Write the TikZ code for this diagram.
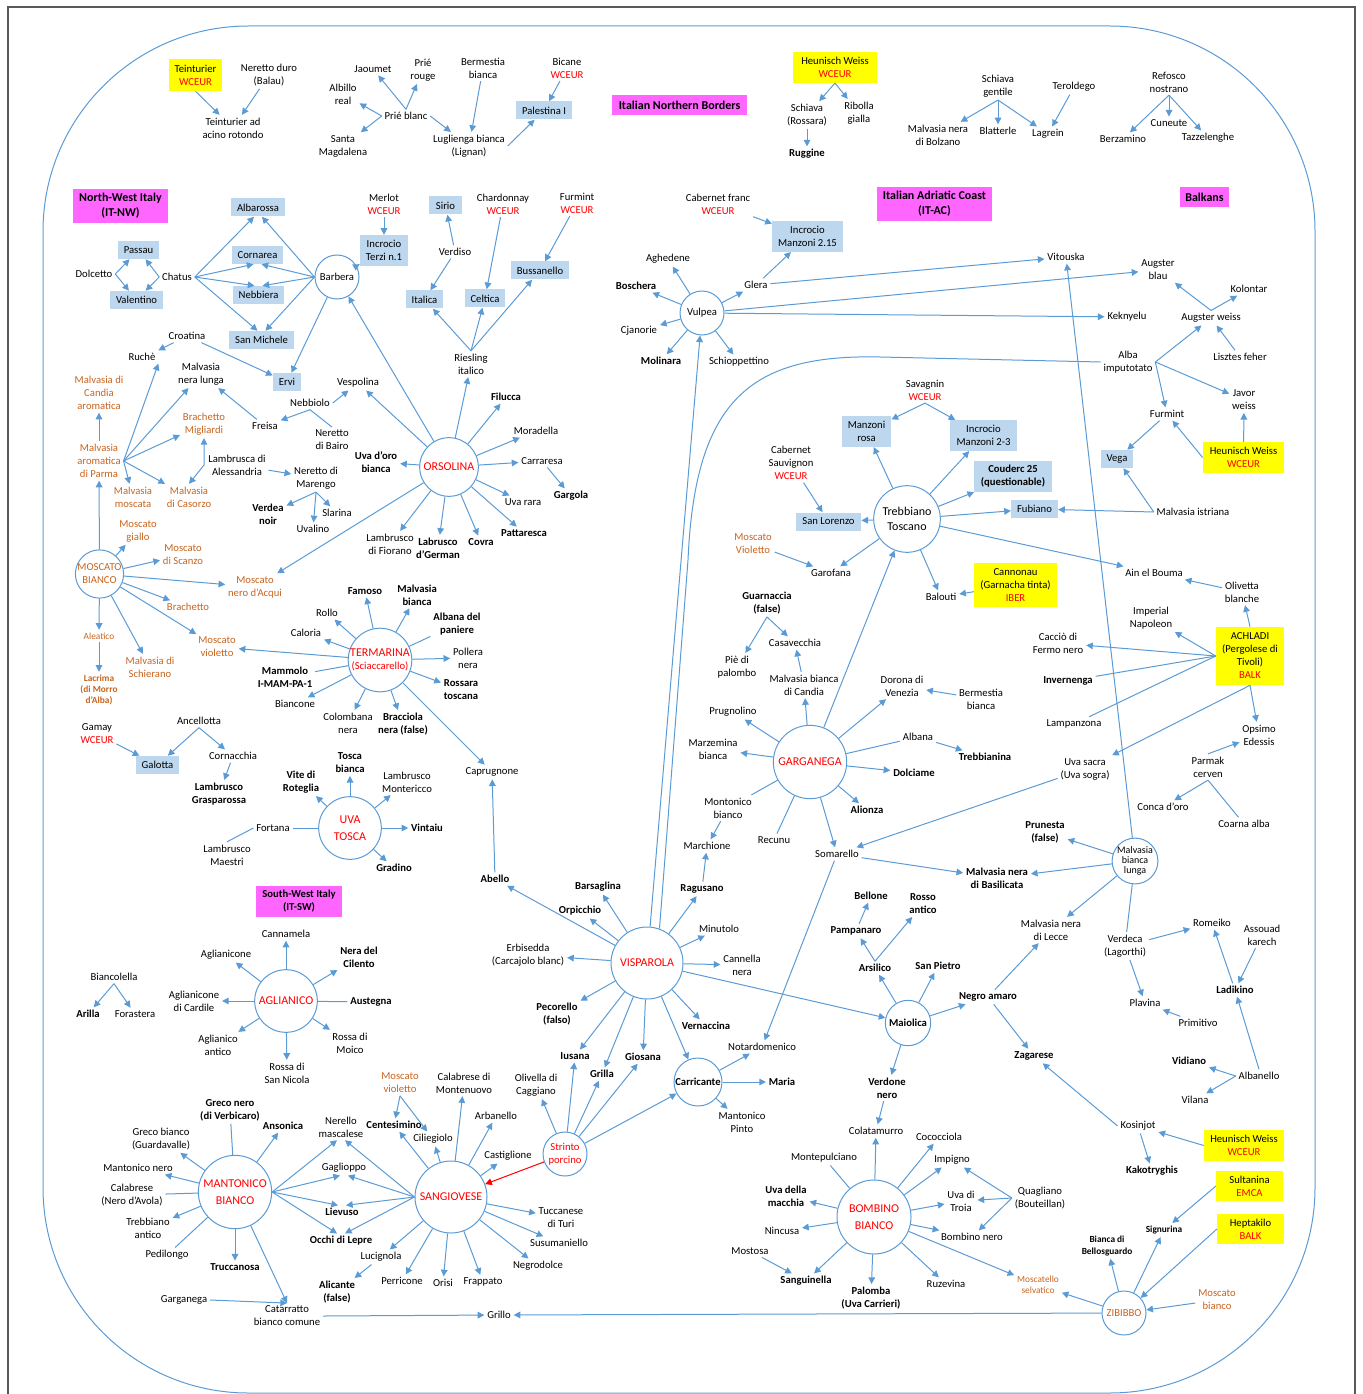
\documentclass[tikz,border=0pt]{standalone}
\usepackage{fontspec}
\setmainfont{Carlito}
\usetikzlibrary{arrows.meta}
\definecolor{lblue}{HTML}{5B9BD5}
\definecolor{bxblue}{HTML}{BDD7EE}
\definecolor{yel}{HTML}{FFFF00}
\definecolor{mag}{HTML}{FF66FF}
\definecolor{orng}{HTML}{C8641E}
\definecolor{frm}{HTML}{595959}
\newcommand{\fnn}{\fontsize{8}{9.75}\selectfont}
\newcommand{\fnl}{\fontsize{9}{11}\selectfont}
\newcommand{\fns}{\fontsize{7}{8.5}\selectfont}
\newcommand{\redt}[1]{\textcolor{red}{#1}}
\begin{document}
\begin{tikzpicture}[x=0.75pt,y=-0.75pt,
 every node/.style={font=\fnn,align=center,inner sep=2pt,text=black},
 bld/.style={font=\fnn\bfseries},
 org/.style={text=orng},
 sml/.style={font=\fns},
 smb/.style={font=\fns\bfseries},
 ybox/.style={fill=yel,inner sep=2pt},
 bbox/.style={fill=bxblue,inner sep=2pt,minimum height=13.5pt},
 mbox/.style={fill=mag,font=\fnl\bfseries,inner sep=2pt},
 circ/.style={circle,draw=lblue,line width=0.75pt,fill=white,inner sep=0pt},
 arw/.style={color=lblue,line width=0.75pt,-{Triangle[length=5pt,width=5pt]}},
 arwb/.style={color=lblue,line width=0.75pt,{Triangle[length=5pt,width=5pt]}-{Triangle[length=5pt,width=5pt]}},
 lin/.style={color=lblue,line width=0.75pt}]
\useasboundingbox (0,0) rectangle (1362,1394);
\draw[frm,line width=1.5pt] (8,1394) -- (8,7) -- (1355,7) -- (1355,1394);
\draw[lblue,line width=0.75pt,rounded corners=154pt] (43,26) rectangle (1315,1393);

% ---------- top ----------
\node[ybox,minimum width=40pt,minimum height=24pt] (teint) at (195.5,75) {Teinturier\\\redt{WCEUR}};
\node (nduro) at (269,75) {Neretto duro\\(Balau)};
\node (tad) at (233,128) {Teinturier ad\\acino rotondo};
\node (prieb) at (406,116) {Prié blanc};
\node (jaoumet) at (373,69) {Jaoumet};
\node (prier) at (423,70) {Prié\\rouge};
\node (albillo) at (343,94) {Albillo\\real};
\node (santam) at (343,146) {Santa\\Magdalena};
\node (lugl) at (469,146) {Luglienga bianca\\(Lignan)};
\node (bermb) at (483,68) {Bermestia\\bianca};
\node (bicane) at (567,68) {Bicane\\\redt{WCEUR}};
\node[bbox,minimum width=42pt] (palest) at (544,110.5) {Palestina I};
\node[mbox,minimum width=101pt,minimum height=15pt] (inb) at (679.5,105) {Italian Northern Borders};
\node[ybox,minimum width=63pt,minimum height=23pt] (hwa) at (835,67.5) {Heunisch Weiss\\\redt{WCEUR}};
\node (schiavar) at (807,115) {Schiava\\(Rossara)};
\node (ribolla) at (859,113) {Ribolla\\gialla};
\node[bld] (ruggine) at (807,154) {Ruggine};
\node (schiavag) at (998,86) {Schiava\\gentile};
\node (teroldego) at (1074,87) {Teroldego};
\node (mnbolz) at (938,135) {Malvasia nera\\di Bolzano};
\node (blatterle) at (998,131) {Blatterle};
\node (lagrein) at (1048,134) {Lagrein};
\node (refosco) at (1169,82) {Refosco\\nostrano};
\node (cuneute) at (1169,123) {Cuneute};
\node (berzamino) at (1123,139) {Berzamino};
\node (tazz) at (1208,138) {Tazzelenghe};
\node[mbox,minimum width=37pt,minimum height=15pt] (balkans) at (1204.5,197) {Balkans};
\node[mbox,minimum width=86pt,minimum height=25.5pt] (iac) at (934.5,204) {Italian Adriatic Coast\\(IT-AC)};

% ---------- north-west ----------
\node[mbox,minimum width=71pt,minimum height=25.5pt] (nwi) at (120.5,206) {North-West Italy\\(IT-NW)};
\node[bbox,minimum width=31pt] (passau) at (138.5,250) {Passau};
\node[bbox,minimum width=40pt] (valentino) at (136.5,300) {Valentino};
\node (dolcetto) at (94,274) {Dolcetto};
\node (chatus) at (177,277) {Chatus};
\node[bbox,minimum width=40.5pt] (albarossa) at (258,207.5) {Albarossa};
\node[bbox,minimum width=38pt] (cornarea) at (257.5,255) {Cornarea};
\node[bbox,minimum width=38pt] (nebbiera) at (258.5,295) {Nebbiera};
\node[bbox,minimum width=49pt] (sanmichele) at (261.5,340) {San Michele};
\node[circ,minimum size=33pt] (barbera) at (337,277) {Barbera};
\node (merlot) at (384,204) {Merlot\\\redt{WCEUR}};
\node[bbox,minimum width=36pt,minimum height=23pt] (terzi) at (384,250.5) {Incrocio\\Terzi n.1};
\node[bbox,minimum width=25pt] (sirio) at (445.5,205.5) {Sirio};
\node (verdiso) at (455,252) {Verdiso};
\node[bbox,minimum width=28pt] (italica) at (424.5,299.5) {Italica};
\node[bbox,minimum width=30pt] (celtica) at (485,298.5) {Celtica};
\node[bbox,minimum width=43.5pt] (bussanello) at (540,270.5) {Bussanello};
\node (chardonnay) at (503,204) {Chardonnay\\\redt{WCEUR}};
\node (furmintw) at (577,203) {Furmint\\\redt{WCEUR}};
\node (riesling) at (471,364) {Riesling\\italico};
\node (croatina) at (187,336) {Croatina};
\node (ruche) at (142,357) {Ruchè};
\node[bbox,minimum width=21pt] (ervi) at (287,382) {Ervi};
\node[org] (mdca) at (99,393) {Malvasia di\\Candia\\aromatica};
\node[org] (madp) at (99,461) {Malvasia\\aromatica\\di Parma};
\node (mnl) at (201,374) {Malvasia\\nera lunga};
\node[org] (bmig) at (204,424) {Brachetto\\Migliardi};
\node[org] (mmoscata) at (133,497) {Malvasia\\moscata};
\node[org] (mcasorzo) at (189,497) {Malvasia\\di Casorzo};
\node (freisa) at (265,426) {Freisa};
\node (nebbiolo) at (310,403) {Nebbiolo};
\node (nbairo) at (332,440) {Neretto\\di Bairo};
\node (vespolina) at (358,383) {Vespolina};
\node (lambrusca) at (237,465) {Lambrusca di\\Alessandria};
\node (nmarengo) at (316,478) {Neretto di\\Marengo};
\node[bld] (verdea) at (268,514) {Verdea\\noir};
\node (uvalino) at (313,529) {Uvalino};
\node (slarina) at (337,513) {Slarina};
\node[bld] (uvadoro) at (376,462) {Uva d’oro\\bianca};
\node[circ,minimum size=44pt,font=\fnl,text=red] (orsolina) at (449,467) {ORSOLINA};
\node (lfiorano) at (390,544) {Lambrusco\\di Fiorano};
\node[bld] (lgerman) at (438,548) {Labrusco\\d’German};
\node[bld] (covra) at (481,542) {Covra};
\node[bld] (pattaresca) at (524,533) {Pattaresca};
\node (uvarara) at (523,502) {Uva rara};
\node[bld] (gargola) at (571,496) {Gargola};
\node (carraresa) at (542,461) {Carraresa};
\node (moradella) at (536,431) {Moradella};
\node[bld] (filucca) at (506,397) {Filucca};

\node[circ,minimum size=36pt,org] (mbianco) at (99.5,574) {MOSCATO\\BIANCO};
\node[org] (mgiallo) at (138,531) {Moscato\\giallo};
\node[org] (mscanzo) at (183,555) {Moscato\\di Scanzo};
\node[org] (mnacqui) at (255,587) {Moscato\\nero d'Acqui};
\node[org] (brachetto) at (188,607) {Brachetto};
\node[org] (mviol1) at (217,647) {Moscato\\violetto};
\node[org] (mschierano) at (150,667) {Malvasia di\\Schierano};
\node[org,sml] (aleatico) at (99,636) {Aleatico};
\node[org,smb] (lacrima) at (99,690) {Lacrima\\(di Morro\\d’Alba)};

\node[circ,minimum size=47pt,font=\fnl,text=red] (termarina) at (380,660) {TERMARINA\\[-1pt]\fnn(Sciaccarello)};
\node[bld] (famoso) at (365,591) {Famoso};
\node[bld] (mbianca) at (417,595) {Malvasia\\bianca};
\node (rollo) at (327,613) {Rollo};
\node (caloria) at (306,633) {Caloria};
\node[bld] (albanap) at (457,624) {Albana del\\paniere};
\node (pollera) at (468,658) {Pollera\\nera};
\node[bld] (rossarat) at (461,690) {Rossara\\toscana};
\node[bld] (mammolo) at (285,677) {Mammolo\\I-MAM-PA-1};
\node (biancone) at (295,704) {Biancone};
\node (colombana) at (348,723) {Colombana\\nera};
\node[bld] (bracciola) at (403,724) {Bracciola\\nera (false)};
\node (caprugnone) at (492,772) {Caprugnone};
\node[bld] (abello) at (495,879) {Abello};

\node (gamay) at (97,734) {Gamay\\\redt{WCEUR}};
\node[bbox,minimum width=32pt] (galotta) at (157.5,765) {Galotta};
\node (ancellotta) at (199,721) {Ancellotta};
\node (cornacchia) at (233,756) {Cornacchia};
\node[bld] (lgrasp) at (219,794) {Lambrusco\\Grasparossa};

\node[circ,minimum size=47pt,font=\fnl,text=red] (uvatosca) at (350,828) {UVA\\[2pt]TOSCA};
\node[bld] (toscab) at (350,763) {Tosca\\bianca};
\node[bld] (viter) at (301,782) {Vite di\\Roteglia};
\node (lmontericco) at (407,782) {Lambrusco\\Montericco};
\node[bld] (vintaiu) at (427,828) {Vintaiu};
\node[bld] (gradino) at (394,868) {Gradino};
\node (fortana) at (273,828) {Fortana};
\node (lmaestri) at (227,855) {Lambrusco\\Maestri};

% ---------- south-west ----------
\node[mbox,font=\fnn\bfseries,minimum width=64.5pt,minimum height=23pt] (swi) at (299,901.5) {South-West Italy\\(IT-SW)};
\node[circ,minimum size=47pt,font=\fnl,text=red] (aglianico) at (286,1001) {AGLIANICO};
\node (cannamela) at (286,934) {Cannamela};
\node (aglianicone) at (226,955) {Aglianicone};
\node[bld] (neradc) at (359,957) {Nera del\\Cilento};
\node (aglcardile) at (194,1001) {Aglianicone\\di Cardile};
\node[bld] (austegna) at (371,1002) {Austegna};
\node (aglantico) at (218,1045) {Aglianico\\antico};
\node (rossamoico) at (350,1043) {Rossa di\\Moico};
\node (rossasn) at (287,1073) {Rossa di\\San Nicola};
\node (biancolella) at (114,977) {Biancolella};
\node[bld] (arilla) at (88,1014) {Arilla};
\node (forastera) at (135,1014) {Forastera};

\node[circ,minimum size=55pt,font=\fnl,text=red] (mantonico) at (235,1192) {MANTONICO\\[2pt]BIANCO};
\node[bld] (greconero) at (230,1110) {Greco nero\\(di Verbicaro)};
\node[bld] (ansonica) at (283,1126) {Ansonica};
\node (grecob) at (161,1139) {Greco bianco\\(Guardavalle)};
\node (mantnero) at (138,1168) {Mantonico nero};
\node (calabrese) at (132,1195) {Calabrese\\(Nero d’Avola)};
\node (trebantico) at (148,1228) {Trebbiano\\antico};
\node (pedilongo) at (167,1255) {Pedilongo};
\node[bld] (truccanosa) at (235,1267) {Truccanosa};
\node (garganega2) at (184,1300) {Garganega};
\node (catarratto) at (287,1316) {Catarratto\\bianco comune};
\node (nerello) at (341,1127) {Nerello\\mascalese};
\node (gaglioppo) at (344,1168) {Gaglioppo};
\node[bld] (lievuso) at (342,1212) {Lievuso};
\node[bld] (occhi) at (341,1241) {Occhi di Lepre};

\node[circ,minimum size=54pt,font=\fnl,text=red] (sangiovese) at (451,1197) {SANGIOVESE};
\node[bld] (centesimino) at (394,1125) {Centesimino};
\node (ciliegiolo) at (433,1139) {Ciliegiolo};
\node[org] (mviol2) at (400,1083) {Moscato\\violetto};
\node (calabm) at (464,1083) {Calabrese di\\Montenuovo};
\node (arbanello) at (496,1116) {Arbanello};
\node (castiglione) at (508,1156) {Castiglione};
\node (tuccanese) at (561,1218) {Tuccanese\\di Turi};
\node (susumaniello) at (559,1243) {Susumaniello};
\node (negrodolce) at (538,1266) {Negrodolce};
\node (frappato) at (483,1282) {Frappato};
\node (orisi) at (443,1283) {Orisi};
\node (perricone) at (402,1281) {Perricone};
\node (lucignola) at (381,1257) {Lucignola};
\node[bld] (alicante) at (337,1292) {Alicante\\(false)};
\node (grillo) at (499,1315) {Grillo};

\node[circ,minimum size=33pt,text=red] (strinto) at (565,1154) {Strinto\\porcino};
\node (olivella) at (536,1085) {Olivella di\\Caggiano};
\node[bld] (iusana) at (575,1056) {Iusana};
\node[bld] (grilla) at (602,1074) {Grilla};
\node[bld] (giosana) at (643,1057) {Giosana};
\node[circ,minimum size=36pt,font=\fnn\bfseries] (carricante) at (698,1082) {Carricante};
\node (notardomenico) at (762,1047) {Notardomenico};
\node[bld] (maria) at (782,1082) {Maria};
\node (mpinto) at (742,1122) {Mantonico\\Pinto};

% ---------- centre ----------
\node[circ,minimum size=54pt,font=\fnl,text=red] (visparola) at (647,963) {VISPAROLA};
\node[bld] (orpicchio) at (580,911) {Orpicchio};
\node[bld] (barsaglina) at (598,887) {Barsaglina};
\node[bld] (ragusano) at (702,889) {Ragusano};
\node (marchione) at (707,846) {Marchione};
\node (montonico) at (728,808) {Montonico\\bianco};
\node (minutolo) at (719,929) {Minutolo};
\node (cannella) at (742,965) {Cannella\\nera};
\node[bld] (vernaccina) at (706,1026) {Vernaccina};
\node[bld] (pecorello) at (557,1014) {Pecorello\\(falso)};
\node (erbisedda) at (528,955) {Erbisedda\\(Carcajolo blanc)};

\node[circ,minimum size=55pt,font=\fnl,text=red] (garganega) at (810,762) {GARGANEGA};
\node (prugnolino) at (733,712) {Prugnolino};
\node (marzemina) at (713,749) {Marzemina\\bianca};
\node (mbcandia) at (804,685) {Malvasia bianca\\di Candia};
\node (casavecchia) at (795,643) {Casavecchia};
\node[bld] (guarnaccia) at (767,603) {Guarnaccia\\(false)};
\node (piedip) at (737,667) {Piè di\\palombo};
\node (dorona) at (902,686) {Dorona di\\Venezia};
\node (bermb2) at (981,699) {Bermestia\\bianca};
\node (albana) at (918,737) {Albana};
\node[bld] (trebbianina) at (985,757) {Trebbianina};
\node[bld] (dolciame) at (914,773) {Dolciame};
\node[bld] (alionza) at (867,810) {Alionza};
\node (somarello) at (837,854) {Somarello};
\node (recunu) at (774,840) {Recunu};

\node[circ,minimum size=50pt,font=\fnl] (trebbiano) at (907,519) {Trebbiano\\Toscano};
\node (savagnin) at (925,390) {Savagnin\\\redt{WCEUR}};
\node[bbox,minimum width=37pt,minimum height=23pt] (manzrosa) at (866.5,431.5) {Manzoni\\rosa};
\node[bbox,minimum width=50pt,minimum height=23pt] (imtwo) at (983.5,435.5) {Incrocio\\Manzoni 2-3};
\node[bbox,minimum width=58.5pt,minimum height=23pt,font=\fnn\bfseries] (couderc) at (1013,476.5) {Couderc 25\\(questionable)};
\node[bbox,minimum width=35pt] (fubiano) at (1034.5,509) {Fubiano};
\node[bbox,minimum width=49pt] (sanlorenzo) at (828.5,521.5) {San Lorenzo};
\node (cabsauv) at (791,463) {Cabernet\\Sauvignon\\\redt{WCEUR}};
\node[org] (mviol3) at (753,544) {Moscato\\Violetto};
\node (garofana) at (831,573) {Garofana};
\node (balouti) at (941,597) {Balouti};
\node[ybox,minimum width=62pt,minimum height=33pt] (cannonau) at (1015.5,585) {Cannonau\\(Garnacha tinta)\\\redt{IBER}};
\node (ainelbouma) at (1154,573) {Ain el Bouma};
\node (olivetta) at (1242,592) {Olivetta\\blanche};
\node (malvistr) at (1193,512) {Malvasia istriana};
\node[bbox,minimum width=24pt] (vega) at (1117,459) {Vega};
\node (furmint) at (1167,414) {Furmint};
\node[ybox,minimum width=61pt,minimum height=23pt] (hwb) at (1243.5,457.5) {Heunisch Weiss\\\redt{WCEUR}};
\node (javor) at (1244,400) {Javor\\weiss};
\node (albaimp) at (1128,362) {Alba\\imputotato};
\node (lisztes) at (1240,357) {Lisztes feher};
\node (augsterw) at (1211,318) {Augster weiss};
\node (augsterb) at (1158,270) {Augster\\blau};
\node (kolontar) at (1249,289) {Kolontar};
\node (keknyelu) at (1127,317) {Keknyelu};
\node (vitouska) at (1066,257) {Vitouska};

\node[circ,minimum size=33pt] (vulpea) at (702,313) {Vulpea};
\node (glera) at (756,285) {Glera};
\node[bbox,minimum width=53pt,minimum height=23pt] (imone) at (807.5,236.5) {Incrocio\\Manzoni 2.15};
\node (cabfranc) at (718,204) {Cabernet franc\\\redt{WCEUR}};
\node (aghedene) at (668,259) {Aghedene};
\node[bld] (boschera) at (636,286) {Boschera};
\node (cjanorie) at (639,331) {Cjanorie};
\node[bld] (molinara) at (661,361) {Molinara};
\node (schioppettino) at (739,362) {Schioppettino};

% ---------- balkans ----------
\node[ybox,minimum width=51pt,minimum height=43.5pt] (achladi) at (1250,656) {ACHLADI\\(Pergolese di\\Tivoli)\\\redt{BALK}};
\node (imperial) at (1151,618) {Imperial\\Napoleon};
\node (caccio) at (1058,643) {Cacciò di\\Fermo nero};
\node[bld] (invernenga) at (1068,681) {Invernenga};
\node (lampanzona) at (1074,724) {Lampanzona};
\node (uvasacra) at (1085,769) {Uva sacra\\(Uva sogra)};
\node (opsimo) at (1259,735) {Opsimo\\Edessis};
\node (parmak) at (1208,767) {Parmak\\cerven};
\node (concadoro) at (1163,807) {Conca d’oro};
\node (coarna) at (1244,824) {Coarna alba};

\node[circ,minimum size=33pt,font=\fontsize{7.5}{7.5}\selectfont] (mbl) at (1135,861) {Malvasia\\bianca\\lunga};
\node[bld] (prunesta) at (1045,832) {Prunesta\\(false)};
\node[bld] (mnbasil) at (997,878) {Malvasia nera\\di Basilicata};
\node (mnlecce) at (1051,930) {Malvasia nera\\di Lecce};
\node (verdeca) at (1125,946) {Verdeca\\(Lagorthi)};
\node (romeiko) at (1212,923) {Romeiko};
\node (assouad) at (1262,935) {Assouad\\karech};
\node[bld] (ladikino) at (1235,990) {Ladikino};
\node (plavina) at (1145,1003) {Plavina};
\node (primitivo) at (1198,1023) {Primitivo};
\node[bld] (vidiano) at (1189,1061) {Vidiano};
\node (albanello) at (1259,1076) {Albanello};
\node (vilana) at (1195,1100) {Vilana};

\node[circ,minimum size=34pt,font=\fnn\bfseries] (maiolica) at (908,1023) {Maiolica};
\node[bld] (arsilico) at (875,968) {Arsilico};
\node[bld] (pampanaro) at (856,931) {Pampanaro};
\node[bld] (bellone) at (871,896) {Bellone};
\node[bld] (rossoantico) at (923,904) {Rosso\\antico};
\node[bld] (sanpietro) at (938,966) {San Pietro};
\node[bld] (negroamaro) at (988,997) {Negro amaro};
\node[bld] (zagarese) at (1034,1056) {Zagarese};
\node (kosinjot) at (1138,1126) {Kosinjot};
\node[bld] (kakotryghis) at (1152,1171) {Kakotryghis};
\node[ybox,minimum width=60pt,minimum height=23pt] (hwc) at (1244,1145.5) {Heunisch Weiss\\\redt{WCEUR}};
\node[bld] (verdone) at (887,1088) {Verdone\\nero};
\node (colatamurro) at (876,1131) {Colatamurro};

\node[circ,minimum size=55.5pt,font=\fnl,text=red] (bombino) at (874,1217) {BOMBINO\\[2pt]BIANCO};
\node (cococciola) at (939,1137) {Cococciola};
\node (impigno) at (952,1160) {Impigno};
\node (uvatroia) at (961,1201) {Uva di\\Troia};
\node (bombinonero) at (972,1237) {Bombino nero};
\node (quagliano) at (1040,1198) {Quagliano\\(Bouteillan)};
\node (ruzevina) at (946,1284) {Ruzevina};
\node[org,sml] (moscatello) at (1038,1285) {Moscatello\\selvatico};
\node[bld] (palomba) at (871,1298) {Palomba\\(Uva Carrieri)};
\node[bld] (sanguinella) at (806,1281) {Sanguinella};
\node (mostosa) at (750,1251) {Mostosa};
\node (nincusa) at (782,1231) {Nincusa};
\node[bld] (uvamacchia) at (786,1196) {Uva della\\macchia};
\node (montepulciano) at (824,1158) {Montepulciano};

\node[circ,minimum size=33pt,org] (zibibbo) at (1124,1313) {ZIBIBBO};
\node[smb] (bellosguardo) at (1107,1246) {Bianca di\\Bellosguardo};
\node[smb] (signurina) at (1164,1230) {Signurina};
\node[ybox,minimum width=50pt,minimum height=22.5pt] (sultanina) at (1249.5,1186) {Sultanina\\\redt{EMCA}};
\node[ybox,minimum width=50pt,minimum height=22.5pt] (heptakilo) at (1250.5,1229) {Heptakilo\\\redt{BALK}};
\node[org] (mbianco2) at (1217,1300) {Moscato\\bianco};

% ================= connectors =================
\draw[arw] (teint.south) -- (tad);
\draw[arw] (nduro) -- (tad);
\draw[arw] (prieb.north) -- (jaoumet);
\draw[arw] (prieb.north) -- (prier);
\draw[arw] (prieb.west) -- (albillo);
\draw[arw] (prieb.west) -- (santam);
\draw[arw] (prieb.east) -- (lugl);
\draw[arw] (bermb) -- (lugl);
\draw[arw] (bicane) -- (palest);
\draw[arw] (lugl.east) -- (palest);
\draw[arw] (hwa.south) -- (schiavar);
\draw[arw] (hwa.south) -- (ribolla);
\draw[arw] (schiavar) -- (ruggine);
\draw[arw] (schiavag.south) -- (mnbolz);
\draw[arw] (schiavag.south) -- (blatterle);
\draw[arw] (schiavag.south) -- (lagrein);
\draw[arw] (teroldego) -- (lagrein);
\draw[arw] (refosco.south) -- (berzamino);
\draw[arw] (refosco.south) -- (cuneute);
\draw[arw] (refosco.south) -- (tazz);

\draw[arw] (dolcetto.east) -- (passau);
\draw[arw] (dolcetto.east) -- (valentino);
\draw[arw] (chatus.west) -- (passau);
\draw[arw] (chatus.west) -- (valentino);
\draw[arw] (chatus.east) -- ([xshift=-3pt]albarossa.south);
\draw[arw] (chatus.east) -- ([xshift=-3pt]cornarea.south);
\draw[arw] (chatus.east) -- ([xshift=-3pt]nebbiera.north);
\draw[arw] (chatus.east) -- ([xshift=-3pt]sanmichele.north);
\draw[arw] (barbera.west) -- ([xshift=3pt]albarossa.south);
\draw[arw] (barbera.west) -- ([xshift=3pt]cornarea.south);
\draw[arw] (barbera.west) -- ([xshift=3pt]nebbiera.north);
\draw[arw] (barbera.west) -- ([xshift=3pt]sanmichele.north);
\draw[arw] (barbera) -- (terzi);
\draw[arw] (merlot) -- (terzi);
\draw[arw] (verdiso) -- (sirio);
\draw[arw] (verdiso) -- (italica);
\draw[arw] (riesling.north) -- (italica);
\draw[arw] (riesling.north) -- (celtica);
\draw[arw] (riesling.north) -- (bussanello);
\draw[arw] (chardonnay) -- (celtica);
\draw[arw] (furmintw) -- (bussanello);
\draw[arw] (orsolina) -- (barbera);
\draw[arw] (barbera) -- (ervi);
\draw[arw] (croatina) -- (ervi);
\draw[arw] (croatina) -- (ruche.north east);
\draw[arw] (madp.east) -- (ruche.south east);
\draw[arw] (madp) -- (mdca);
\draw[arw] (madp.east) -- (mnl);
\draw[arw] (madp.east) -- (bmig);
\draw[arw] (madp.east) -- (mmoscata);
\draw[arw] (madp.east) -- (mcasorzo);
\draw[arwb] (bmig.south) -- ++(0,27) -- (mcasorzo.north);
\draw[arw] (freisa) -- (mnl);
\draw[arw] (nebbiolo.south) -- (freisa);
\draw[lin] (nebbiolo.south) -- (nbairo.north);
\draw[arw] (nebbiolo.east) -- (vespolina);
\draw[arw] (orsolina) -- (vespolina);
\draw[arw] (lambrusca) -- (nmarengo);
\draw[arw] (nmarengo.south) -- (verdea);
\draw[arw] (nmarengo.south) -- (uvalino);
\draw[arw] (nmarengo.south) -- (slarina);
\draw[arw] (orsolina) -- (uvadoro);
\foreach \tg in {riesling,filucca,moradella,carraresa,uvarara,pattaresca,covra,lgerman,lfiorano,mnacqui}
  \draw[arw] (orsolina) -- (\tg);
\draw[arw] (carraresa) -- (gargola);

\draw[arw] (mbianco) -- (madp);
\foreach \tg in {mgiallo,mscanzo,mnacqui,brachetto,mviol1,mschierano,aleatico}
  \draw[arw] (mbianco) -- (\tg);
\draw[arw] (aleatico) -- (lacrima);

\foreach \tg in {famoso,mbianca,rollo,caloria,mviol1,pollera,rossarat,biancone,colombana,bracciola,caprugnone}
  \draw[arw] (termarina) -- (\tg);
\draw[lin] (termarina) -- (albanap);
\draw[lin] (termarina) -- (mammolo);
\draw[arw] (abello) -- (caprugnone);

\draw[arw] (gamay) -- (galotta);
\draw[arw] (ancellotta.south) -- (galotta);
\draw[arw] (ancellotta.south) -- (cornacchia);
\draw[arw] (cornacchia) -- (lgrasp);

\foreach \tg in {toscab,viter,lmontericco,vintaiu,gradino}
  \draw[arw] (uvatosca) -- (\tg);
\draw[lin] (uvatosca) -- (fortana);
\draw[lin] (lmaestri.north) -- (fortana.west);

\foreach \tg in {cannamela,aglianicone,neradc,aglcardile,aglantico,rossamoico,rossasn}
  \draw[arw] (aglianico) -- (\tg);
\draw[lin] (aglianico) -- (austegna);
\draw[arw] (biancolella.south) -- (arilla);
\draw[arw] (biancolella.south) -- (forastera);

\draw[lin] (mantonico) -- (greconero);
\foreach \tg in {ansonica,grecob,mantnero,trebantico,truccanosa}
  \draw[arw] (mantonico) -- (\tg);
\draw[arw] (mantonico) -- (catarratto.north);
\draw[lin] (mantonico) -- (calabrese);
\draw[lin] (mantonico) -- (pedilongo);
\draw[arw] (garganega2.east) -- (catarratto.north);
\draw[arw] (catarratto.east) -- (grillo);
\draw[arw] (zibibbo) -- (grillo);
\draw[arw] (mantonico.east) -- ([xshift=-3pt]nerello.south);
\draw[arw] (sangiovese.west) -- ([xshift=3pt]nerello.south);
\draw[arw] (mantonico.east) -- ([xshift=-3pt]gaglioppo.south);
\draw[arw] (sangiovese.west) -- ([xshift=3pt]gaglioppo.south);
\draw[arw] (mantonico.east) -- ([xshift=-3pt]lievuso.north);
\draw[arw] (sangiovese.west) -- ([xshift=3pt]lievuso.north);
\draw[arw] (mantonico.east) -- ([xshift=-3pt]occhi.north);
\draw[arw] (sangiovese.west) -- ([xshift=3pt]occhi.north);

\foreach \tg in {centesimino,ciliegiolo,calabm,arbanello,castiglione,tuccanese,susumaniello,negrodolce,frappato,orisi,perricone,lucignola}
  \draw[arw] (sangiovese) -- (\tg);
\draw[arw] (mviol2.south) -- (centesimino);
\draw[arw] (mviol2.south) -- (ciliegiolo);
\draw[arw] (lucignola) -- (alicante);
\draw[arw,color=red] (strinto) -- (sangiovese);

\foreach \tg in {olivella,iusana,grilla,giosana,carricante}
  \draw[arw] (strinto) -- (\tg);
\foreach \tg in {notardomenico,maria,mpinto}
  \draw[arw] (carricante) -- (\tg);

\foreach \tg in {abello,orpicchio,barsaglina,ragusano,minutolo,cannella,maiolica,vernaccina,erbisedda,pecorello,iusana,grilla,giosana,carricante,vulpea}
  \draw[arw] (visparola) -- (\tg);
\draw[arw] (ragusano) -- (marchione);
\draw[arw] (montonico) -- (marchione);
\draw[lin] (garganega) -- (montonico);
\draw[lin] (albaimp.west) -- (880,357) .. controls (750,354) and (695,400) .. (688,560) -- (visparola.70);

\foreach \tg in {prugnolino,marzemina,mbcandia,trebbiano,dorona,dolciame,alionza,somarello}
  \draw[arw] (garganega) -- (\tg);
\draw[lin] (garganega) -- (albana);
\draw[lin] (garganega) -- (recunu);
\draw[arw] (albana) -- (trebbianina);
\draw[arw] (bermb2) -- (dorona);
\draw[arw] (mbcandia) -- (casavecchia);
\draw[arw] (guarnaccia.south) -- (piedip);
\draw[arw] (guarnaccia.south) -- (casavecchia);

\foreach \tg in {manzrosa,imtwo,couderc,fubiano,sanlorenzo,garofana,balouti,ainelbouma}
  \draw[arw] (trebbiano) -- (\tg);
\draw[arw] (savagnin.south) -- (manzrosa);
\draw[arw] (savagnin.south) -- (imtwo);
\draw[arw] (cabsauv) -- (sanlorenzo);
\draw[arw] (mviol3) -- (garofana);
\draw[arw] (cannonau) -- (balouti);
\draw[arw] (olivetta) -- (ainelbouma);
\draw[arw] (malvistr.west) -- (fubiano);
\draw[arw] (malvistr.west) -- (vega);
\draw[arw] (furmint) -- (vega);
\draw[arw] (hwb.west) -- (furmint);
\draw[arw] (hwb) -- (javor);
\draw[arw] (albaimp.east) -- (furmint);
\draw[arw] (albaimp.east) -- (javor);
\draw[arw] (albaimp.east) -- (augsterw);
\draw[arw] (lisztes) -- (augsterw);
\draw[arw] (augsterw.north) -- (augsterb);
\draw[arw] (augsterw.north) -- (kolontar);
\draw[arw] (vulpea) -- (augsterb);
\draw[arw] (vulpea) -- (keknyelu);
\draw[arw] (glera) -- (vitouska);
\draw[arw] (glera) -- (imone);
\draw[arw] (cabfranc) -- (imone);
\draw[arw] (mbl) -- (vitouska);
\foreach \tg in {aghedene,boschera,glera,cjanorie,molinara,schioppettino}
  \draw[arw] (vulpea) -- (\tg);

\draw[arw] (achladi.north) -- (olivetta);
\draw[arw] (achladi.west) -- (imperial);
\draw[arw] (achladi.west) -- (caccio);
\draw[lin] (achladi.west) -- (invernenga);
\draw[lin] (achladi.west) -- (lampanzona);
\draw[arw] (achladi.south) -- (uvasacra);
\draw[arw] (achladi.south) -- (opsimo);
\draw[arw] (uvasacra) -- (somarello);
\draw[arw] (parmak.north) -- (opsimo);
\draw[arw] (parmak.south) -- (concadoro);
\draw[lin] (parmak.south) -- (coarna);

\draw[arw] (mbl) -- (prunesta);
\draw[arw] (mbl) -- (mnbasil);
\draw[arw] (mbl) -- (mnlecce);
\draw[lin] (mbl) -- (verdeca);
\draw[arw] (somarello) -- (mnbasil);
\draw[arw] (somarello) -- (notardomenico);
\draw[arw] (verdeca) -- (romeiko);
\draw[arw] (verdeca) -- (plavina);
\draw[arw] (primitivo) -- (plavina);
\draw[arw] (ladikino) -- (romeiko);
\draw[arw] (assouad) -- (ladikino);
\draw[arw] (albanello.north) -- (ladikino);
\draw[arw] (albanello.west) -- (vidiano);
\draw[arw] (albanello.west) -- (vilana);

\foreach \tg in {arsilico,sanpietro,negroamaro,verdone}
  \draw[arw] (maiolica) -- (\tg);
\draw[arw] (arsilico.north) -- (pampanaro);
\draw[arw] (arsilico.north) -- (rossoantico);
\draw[arw] (pampanaro) -- (bellone);
\draw[arw] (negroamaro) -- (mnlecce);
\draw[arw] (negroamaro) -- (zagarese);
\draw[arw] (kosinjot.west) -- (zagarese);
\draw[arw] (kosinjot) -- (kakotryghis);
\draw[arw] (hwc.west) -- (kosinjot);
\draw[arw] (verdone) -- (colatamurro);

\foreach \tg in {colatamurro,cococciola,impigno,uvatroia,bombinonero,ruzevina,moscatello,palomba,sanguinella,nincusa,uvamacchia}
  \draw[arw] (bombino) -- (\tg);
\draw[lin] (bombino) -- (montepulciano);
\draw[arw] (quagliano.west) -- (impigno);
\draw[arw] (quagliano.west) -- (uvatroia);
\draw[arw] (quagliano.west) -- (bombinonero);
\draw[arw] (mostosa) -- (sanguinella);

\foreach \tg in {moscatello,bellosguardo,signurina}
  \draw[arw] (zibibbo) -- (\tg);
\draw[arw] (sultanina.west) -- (signurina);
\draw[arw] (heptakilo.west) -- (zibibbo);
\draw[arw] (mbianco2) -- (zibibbo);
\end{tikzpicture}
\end{document}
